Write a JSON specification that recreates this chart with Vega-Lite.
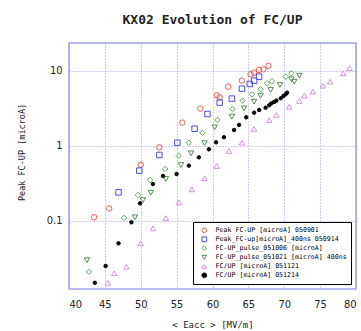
{
  "$schema": "https://vega.github.io/schema/vega-lite/v6.json",
  "width": 287,
  "height": 246,
  "autosize": {"type": "none"},
  "padding": {"left": 69, "top": 43, "right": 5, "bottom": 42},
  "title": {"text": "KX02  Evolution of FC/UP", "font": "DejaVu Sans Mono", "fontSize": 13, "fontWeight": "bold", "color": "#222", "offset": 16, "anchor": "middle"},
  "config": {
    "view": {"stroke": "#a0a0f0", "strokeWidth": 1.5},
    "axis": {"gridColor": "#8c8ce8", "gridDash": [1, 2], "gridWidth": 1, "gridOpacity": 0.9, "domain": false, "ticks": false, "labelFont": "Liberation Sans Narrow, DejaVu Sans Condensed", "labelFontSize": 11, "labelColor": "#222", "titleFont": "DejaVu Sans Mono", "titleFontWeight": "normal", "titleColor": "#222"}
  },
  "data": {"values": [
    {"s": "Peak FC-UP [microA] 050901", "x": 43.5, "y": 0.112},
    {"s": "Peak FC-UP [microA] 050901", "x": 45.6, "y": 0.147},
    {"s": "Peak FC-UP [microA] 050901", "x": 50.0, "y": 0.56},
    {"s": "Peak FC-UP [microA] 050901", "x": 52.6, "y": 0.96},
    {"s": "Peak FC-UP [microA] 050901", "x": 55.8, "y": 2.05},
    {"s": "Peak FC-UP [microA] 050901", "x": 58.3, "y": 3.15},
    {"s": "Peak FC-UP [microA] 050901", "x": 60.6, "y": 4.74},
    {"s": "Peak FC-UP [microA] 050901", "x": 61.0, "y": 4.45},
    {"s": "Peak FC-UP [microA] 050901", "x": 62.2, "y": 6.18},
    {"s": "Peak FC-UP [microA] 050901", "x": 64.1, "y": 7.43},
    {"s": "Peak FC-UP [microA] 050901", "x": 65.3, "y": 9.03},
    {"s": "Peak FC-UP [microA] 050901", "x": 65.8, "y": 9.5},
    {"s": "Peak FC-UP [microA] 050901", "x": 66.5, "y": 10.3},
    {"s": "Peak FC-UP [microA] 050901", "x": 67.1, "y": 10.5},
    {"s": "Peak FC-UP [microA] 050901", "x": 67.8, "y": 11.7},
    {"s": "Peak_FC-up[microA]_400ns 050914", "x": 46.9, "y": 0.241},
    {"s": "Peak_FC-up[microA]_400ns 050914", "x": 49.8, "y": 0.469},
    {"s": "Peak_FC-up[microA]_400ns 050914", "x": 52.6, "y": 0.759},
    {"s": "Peak_FC-up[microA]_400ns 050914", "x": 55.1, "y": 1.107},
    {"s": "Peak_FC-up[microA]_400ns 050914", "x": 57.5, "y": 1.70},
    {"s": "Peak_FC-up[microA]_400ns 050914", "x": 59.3, "y": 2.67},
    {"s": "Peak_FC-up[microA]_400ns 050914", "x": 61.0, "y": 3.78},
    {"s": "Peak_FC-up[microA]_400ns 050914", "x": 62.7, "y": 4.28},
    {"s": "Peak_FC-up[microA]_400ns 050914", "x": 64.1, "y": 5.81},
    {"s": "Peak_FC-up[microA]_400ns 050914", "x": 65.2, "y": 6.71},
    {"s": "Peak_FC-up[microA]_400ns 050914", "x": 65.8, "y": 7.43},
    {"s": "Peak_FC-up[microA]_400ns 050914", "x": 66.5, "y": 8.40},
    {"s": "FC-UP_pulse_051006 [microA]", "x": 42.8, "y": 0.021},
    {"s": "FC-UP_pulse_051006 [microA]", "x": 47.7, "y": 0.110},
    {"s": "FC-UP_pulse_051006 [microA]", "x": 49.6, "y": 0.222},
    {"s": "FC-UP_pulse_051006 [microA]", "x": 51.3, "y": 0.352},
    {"s": "FC-UP_pulse_051006 [microA]", "x": 53.4, "y": 0.494},
    {"s": "FC-UP_pulse_051006 [microA]", "x": 55.3, "y": 0.743},
    {"s": "FC-UP_pulse_051006 [microA]", "x": 56.7, "y": 1.107},
    {"s": "FC-UP_pulse_051006 [microA]", "x": 58.6, "y": 1.50},
    {"s": "FC-UP_pulse_051006 [microA]", "x": 60.7, "y": 2.22},
    {"s": "FC-UP_pulse_051006 [microA]", "x": 62.8, "y": 3.11},
    {"s": "FC-UP_pulse_051006 [microA]", "x": 64.2, "y": 4.02},
    {"s": "FC-UP_pulse_051006 [microA]", "x": 65.5, "y": 4.89},
    {"s": "FC-UP_pulse_051006 [microA]", "x": 66.7, "y": 5.70},
    {"s": "FC-UP_pulse_051006 [microA]", "x": 67.6, "y": 6.86},
    {"s": "FC-UP_pulse_051006 [microA]", "x": 68.3, "y": 7.29},
    {"s": "FC-UP_pulse_051006 [microA]", "x": 70.2, "y": 8.40},
    {"s": "FC-UP_pulse_051006 [microA]", "x": 71.0, "y": 9.31},
    {"s": "FC-UP_pulse_051021 [microA] 400ns", "x": 42.5, "y": 0.030},
    {"s": "FC-UP_pulse_051021 [microA] 400ns", "x": 49.2, "y": 0.112},
    {"s": "FC-UP_pulse_051021 [microA] 400ns", "x": 50.3, "y": 0.19},
    {"s": "FC-UP_pulse_051021 [microA] 400ns", "x": 51.4, "y": 0.238},
    {"s": "FC-UP_pulse_051021 [microA] 400ns", "x": 53.5, "y": 0.363},
    {"s": "FC-UP_pulse_051021 [microA] 400ns", "x": 55.6, "y": 0.558},
    {"s": "FC-UP_pulse_051021 [microA] 400ns", "x": 57.0, "y": 0.798},
    {"s": "FC-UP_pulse_051021 [microA] 400ns", "x": 58.9, "y": 1.09},
    {"s": "FC-UP_pulse_051021 [microA] 400ns", "x": 60.3, "y": 1.77},
    {"s": "FC-UP_pulse_051021 [microA] 400ns", "x": 62.7, "y": 2.46},
    {"s": "FC-UP_pulse_051021 [microA] 400ns", "x": 64.4, "y": 3.18},
    {"s": "FC-UP_pulse_051021 [microA] 400ns", "x": 65.8, "y": 3.90},
    {"s": "FC-UP_pulse_051021 [microA] 400ns", "x": 66.7, "y": 4.69},
    {"s": "FC-UP_pulse_051021 [microA] 400ns", "x": 68.1, "y": 5.58},
    {"s": "FC-UP_pulse_051021 [microA] 400ns", "x": 69.4, "y": 6.51},
    {"s": "FC-UP_pulse_051021 [microA] 400ns", "x": 71.0, "y": 7.75},
    {"s": "FC-UP_pulse_051021 [microA] 400ns", "x": 71.4, "y": 7.2},
    {"s": "FC-UP_pulse_051021 [microA] 400ns", "x": 72.1, "y": 8.66},
    {"s": "FC/UP  [microA] 051121", "x": 45.4, "y": 0.015},
    {"s": "FC/UP  [microA] 051121", "x": 46.3, "y": 0.0201},
    {"s": "FC/UP  [microA] 051121", "x": 48.0, "y": 0.0246},
    {"s": "FC/UP  [microA] 051121", "x": 50.0, "y": 0.0504},
    {"s": "FC/UP  [microA] 051121", "x": 51.7, "y": 0.0798},
    {"s": "FC/UP  [microA] 051121", "x": 53.5, "y": 0.109},
    {"s": "FC/UP  [microA] 051121", "x": 55.3, "y": 0.177},
    {"s": "FC/UP  [microA] 051121", "x": 57.1, "y": 0.264},
    {"s": "FC/UP  [microA] 051121", "x": 58.9, "y": 0.371},
    {"s": "FC/UP  [microA] 051121", "x": 60.6, "y": 0.541},
    {"s": "FC/UP  [microA] 051121", "x": 62.3, "y": 0.857},
    {"s": "FC/UP  [microA] 051121", "x": 64.1, "y": 1.107},
    {"s": "FC/UP  [microA] 051121", "x": 65.8, "y": 1.69},
    {"s": "FC/UP  [microA] 051121", "x": 67.9, "y": 2.22},
    {"s": "FC/UP  [microA] 051121", "x": 68.9, "y": 2.59},
    {"s": "FC/UP  [microA] 051121", "x": 70.7, "y": 3.34},
    {"s": "FC/UP  [microA] 051121", "x": 72.1, "y": 3.98},
    {"s": "FC/UP  [microA] 051121", "x": 72.8, "y": 4.69},
    {"s": "FC/UP  [microA] 051121", "x": 74.0, "y": 5.30},
    {"s": "FC/UP  [microA] 051121", "x": 75.4, "y": 6.37},
    {"s": "FC/UP  [microA] 051121", "x": 76.4, "y": 7.2},
    {"s": "FC/UP  [microA] 051121", "x": 78.2, "y": 9.31},
    {"s": "FC/UP  [microA] 051121", "x": 79.1, "y": 10.9},
    {"s": "FC/UP  [microA]  051214", "x": 43.6, "y": 0.0150},
    {"s": "FC/UP  [microA]  051214", "x": 45.1, "y": 0.0251},
    {"s": "FC/UP  [microA]  051214", "x": 46.9, "y": 0.0504},
    {"s": "FC/UP  [microA]  051214", "x": 48.7, "y": 0.0961},
    {"s": "FC/UP  [microA]  051214", "x": 49.9, "y": 0.172},
    {"s": "FC/UP  [microA]  051214", "x": 51.7, "y": 0.311},
    {"s": "FC/UP  [microA]  051214", "x": 53.1, "y": 0.398},
    {"s": "FC/UP  [microA]  051214", "x": 55.0, "y": 0.423},
    {"s": "FC/UP  [microA]  051214", "x": 56.7, "y": 0.547},
    {"s": "FC/UP  [microA]  051214", "x": 58.1, "y": 0.706},
    {"s": "FC/UP  [microA]  051214", "x": 59.5, "y": 0.903},
    {"s": "FC/UP  [microA]  051214", "x": 60.5, "y": 1.12},
    {"s": "FC/UP  [microA]  051214", "x": 61.6, "y": 1.31},
    {"s": "FC/UP  [microA]  051214", "x": 63.0, "y": 1.63},
    {"s": "FC/UP  [microA]  051214", "x": 63.7, "y": 1.91},
    {"s": "FC/UP  [microA]  051214", "x": 64.7, "y": 2.41},
    {"s": "FC/UP  [microA]  051214", "x": 65.8, "y": 2.78},
    {"s": "FC/UP  [microA]  051214", "x": 66.5, "y": 3.02},
    {"s": "FC/UP  [microA]  051214", "x": 67.4, "y": 3.24},
    {"s": "FC/UP  [microA]  051214", "x": 67.9, "y": 3.49},
    {"s": "FC/UP  [microA]  051214", "x": 68.2, "y": 3.70},
    {"s": "FC/UP  [microA]  051214", "x": 68.6, "y": 3.86},
    {"s": "FC/UP  [microA]  051214", "x": 68.9, "y": 4.02},
    {"s": "FC/UP  [microA]  051214", "x": 69.5, "y": 4.32},
    {"s": "FC/UP  [microA]  051214", "x": 69.9, "y": 4.64},
    {"s": "FC/UP  [microA]  051214", "x": 70.2, "y": 4.89},
    {"s": "FC/UP  [microA]  051214", "x": 70.4, "y": 5.14}
  ]},
  "encoding": {
    "x": {"field": "x", "type": "quantitative", "scale": {"domain": [40, 80], "nice": false, "zero": false},
      "axis": {"values": [40, 45, 50, 55, 60, 65, 70, 75, 80], "labelPadding": 9, "title": "< Eacc >   [MV/m]", "titleFontSize": 9, "titleY": 35, "titleBaseline": "middle"}},
    "y": {"field": "y", "type": "quantitative", "scale": {"type": "log", "domain": [0.0124, 23.6], "nice": false},
      "axis": {"values": [0.1, 1, 10], "format": "~g", "labelPadding": 7, "title": "Peak FC-UP [microA]", "titleFontSize": 8.5, "titleX": -48, "titleY": 109, "titleAngle": -90, "titleAlign": "center", "titleBaseline": "middle"}},
    "stroke": {"field": "s", "type": "nominal",
      "scale": {"domain": ["Peak FC-UP [microA] 050901", "Peak_FC-up[microA]_400ns 050914", "FC-UP_pulse_051006 [microA]", "FC-UP_pulse_051021 [microA] 400ns", "FC/UP  [microA] 051121", "FC/UP  [microA]  051214"],
        "range": ["#ee5a50", "#4a4aee", "#5cae5c", "#4e9050", "#d890e0", "#000000"]},
      "legend": {"orient": "none", "legendX": 124, "legendY": 179, "title": null, "strokeColor": "#000", "fillColor": "#fff", "padding": 4, "rowPadding": 0, "clipHeight": 8.6, "symbolSize": 22, "symbolStrokeWidth": 1, "symbolOffset": 4, "labelFont": "DejaVu Sans Mono", "labelFontSize": 6.6, "labelOffset": 8, "labelLimit": 300,
        "encode": {"legend": {"update": {"strokeWidth": {"value": 1.5}}}, "labels": {"update": {"fill": {"scale": "stroke", "field": "value"}}}}}},
    "fill": {"field": "s", "type": "nominal",
      "scale": {"domain": ["Peak FC-UP [microA] 050901", "Peak_FC-up[microA]_400ns 050914", "FC-UP_pulse_051006 [microA]", "FC-UP_pulse_051021 [microA] 400ns", "FC/UP  [microA] 051121", "FC/UP  [microA]  051214"],
        "range": ["transparent", "transparent", "transparent", "transparent", "transparent", "#000000"]}},
    "shape": {"field": "s", "type": "nominal",
      "scale": {"domain": ["Peak FC-UP [microA] 050901", "Peak_FC-up[microA]_400ns 050914", "FC-UP_pulse_051006 [microA]", "FC-UP_pulse_051021 [microA] 400ns", "FC/UP  [microA] 051121", "FC/UP  [microA]  051214"],
        "range": ["circle", "square", "diamond", "triangle-down", "triangle-up", "circle"]}}
  },
  "layer": [
    {"transform": [{"filter": "datum.s !== 'FC/UP  [microA]  051214'"}], "mark": {"type": "point", "strokeWidth": 1, "opacity": 1, "size": 30}},
    {"transform": [{"filter": "datum.s === 'FC/UP  [microA]  051214'"}], "mark": {"type": "point", "strokeWidth": 1, "opacity": 1, "size": 12}}
  ]
}
